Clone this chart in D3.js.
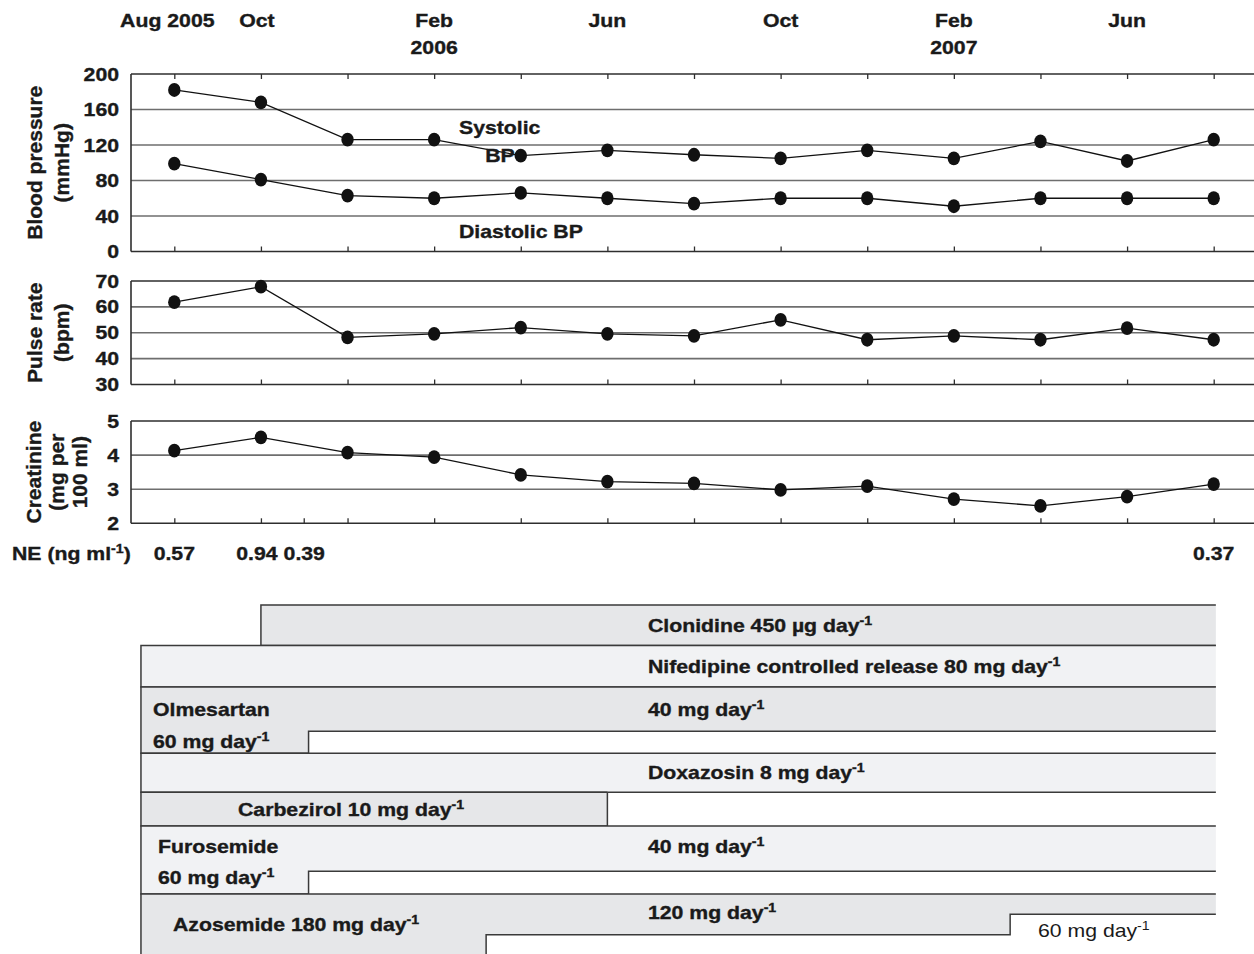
<!DOCTYPE html>
<html><head><meta charset="utf-8">
<script src="https://cdn.jsdelivr.net/npm/d3@7"></script>
<style>
body{margin:0;background:#fff}
svg{display:block}
text{font-family:"Liberation Sans",Arial,Helvetica,sans-serif;fill:#1a1a1a}
text.b{stroke:#1a1a1a;stroke-width:0.35px}
</style>
</head><body>
<svg id="chart" width="1254" height="954"></svg>
<script>
// ---------------- DATA ----------------
const dates = ["2005-08","2005-10","2005-12","2006-02","2006-04","2006-06","2006-08","2006-10","2006-12","2007-02","2007-04","2007-06","2007-08"];
const systolic   = [182,168,126,126,108,114,109,105,114,105,124,102,126];
const diastolic  = [99,81,63,60,66,60,54,60,60,51,60,60,60];
const pulse      = [61.8,67.8,48.2,49.6,52,49.6,48.8,55,47.3,48.8,47.3,51.8,47.3];
const creatinine = [4.13,4.52,4.07,3.94,3.42,3.22,3.17,2.98,3.09,2.71,2.51,2.78,3.15];
const bpTicks = [0,40,80,120,160,200];
const pulseTicks = [30,40,50,60,70];
const creatTicks = [2,3,4,5];
// months after Aug 2005
const topLabels = [
  {m:0, l1:"Aug 2005"}, {m:2, l1:"Oct"}, {m:6, l1:"Feb", l2:"2006"}, {m:10, l1:"Jun"},
  {m:14, l1:"Oct"}, {m:18, l1:"Feb", l2:"2007"}, {m:22, l1:"Jun"}
];
const neMonths = [0,2,3,24];
const neValues = ["0.57","0.94","0.39","0.37"];
const extraTickMonths = [3];
// medication schedules (months after Aug 2005, dose)
const medNames = ["Clonidine","Nifedipine","Olmesartan","Doxazosin","Carbezirol","Furosemide","Azosemide"];
const medSegments = [
  [{from:2, to:24.05, dose:450}],
  [{from:-0.77, to:24.05, dose:80}],
  [{from:-0.77, to:3.1, dose:60},{from:3.1, to:24.05, dose:40}],
  [{from:-0.77, to:24.05, dose:8}],
  [{from:-0.77, to:10, dose:10}],
  [{from:-0.77, to:3.1, dose:60},{from:3.1, to:24.05, dose:40}],
  [{from:-0.77, to:7.2, dose:180},{from:7.2, to:19.3, dose:120},{from:19.3, to:24.05, dose:60}]
];
const studyEnd = 24.05;

// ---------------- SETUP ----------------
const svg = d3.select("#chart");
const SX = 1.18;
const left = 131, right = 1254;
const x = d3.scalePoint().domain(dates).range([131, 1257]).padding(0.5);
const mx = d3.scaleLinear().domain([0,24]).range([x(dates[0]), x(dates[dates.length-1])]);

function stext(g, px, py, parts, opts={}){
  const bold = (opts.weight||"bold") === "bold";
  const t = g.append("text")
    .attr("class", bold ? "b" : null)
    .attr("transform", `translate(${px},${py}) scale(${opts.sx||SX},1)`)
    .attr("text-anchor", opts.anchor||"start")
    .style("font-size", (opts.size||18)+"px")
    .style("font-weight", bold ? "bold" : "normal");
  let raised = false;
  parts.forEach(p=>{
    const isSup = typeof p === "object";
    const s = t.append("tspan").text(isSup ? p.sup : p);
    if(isSup){ s.attr("dy", -7).style("font-size", "12px"); raised = true; }
    else if(raised){ s.attr("dy", 7); raised = false; }
  });
  return t;
}

// ---------------- TOP LABELS ----------------
const gTop = svg.append("g");
topLabels.forEach((d,i)=>{
  const dx = i===0 ? -7 : (i===1 ? -4 : 0);
  stext(gTop, mx(d.m)+dx, 26.5, [d.l1], {anchor:"middle"});
  if(d.l2) stext(gTop, mx(d.m)+dx, 53.5, [d.l2], {anchor:"middle"});
});

// ---------------- PANELS ----------------
function panel(cfg){
  const y = d3.scaleLinear().domain(d3.extent(cfg.ticks)).range([cfg.bottom, cfg.top]);
  const g = svg.append("g");
  g.selectAll("line.grid").data(cfg.ticks).join("line")
    .attr("x1", left).attr("x2", right)
    .attr("y1", d=>y(d)).attr("y2", d=>y(d))
    .attr("stroke", (d,i)=> (i===0||i===cfg.ticks.length-1) ? "#2e2e2e" : "#6e6e6e")
    .attr("stroke-width", 1.6);
  g.append("line").attr("x1",left).attr("x2",left).attr("y1",y.range()[0]).attr("y2",y.range()[1])
    .attr("stroke","#2e2e2e").attr("stroke-width",1.6);
  const bAx = d3.axisBottom(x).tickSize(-5).tickFormat("").tickSizeOuter(0);
  const ab = g.append("g").attr("transform",`translate(0,${cfg.bottom})`).call(bAx);
  ab.select(".domain").remove();
  ab.selectAll(".tick line").attr("stroke","#2e2e2e").attr("stroke-width",1.3);
  if(cfg.extra){
    g.selectAll("line.extra").data(extraTickMonths).join("line")
      .attr("x1", d=>mx(d)).attr("x2", d=>mx(d))
      .attr("y1", cfg.bottom).attr("y2", cfg.bottom-5)
      .attr("stroke","#2e2e2e").attr("stroke-width",1.3);
  }
  if(cfg.topTicks){
    const tAx = d3.axisTop(x).tickSize(-5).tickFormat("").tickSizeOuter(0);
    const at = g.append("g").attr("transform",`translate(0,${cfg.top})`).call(tAx);
    at.select(".domain").remove();
    at.selectAll(".tick line").attr("stroke","#2e2e2e").attr("stroke-width",1.3);
  }
  cfg.ticks.forEach(v=>{
    stext(g, 119, y(v)+6.5, [String(v)], {anchor:"end"});
  });
  cfg.title.forEach((line,i)=>{
    g.append("text").attr("class","b")
      .attr("transform",`translate(${cfg.titleX[i]},${(cfg.top+cfg.bottom)/2}) rotate(-90)`)
      .attr("text-anchor","middle").attr("dy","0.36em")
      .style("font-size","21px").style("font-weight","bold").text(line);
  });
  cfg.series.forEach(vals=>{
    const line = d3.line().x((d,i)=>x(dates[i])).y(d=>y(d));
    g.append("path").datum(vals).attr("d", line)
      .attr("fill","none").attr("stroke","#111").attr("stroke-width",1.3);
    g.selectAll(null).data(vals).join("ellipse")
      .attr("cx",(d,i)=>x(dates[i])).attr("cy",d=>y(d))
      .attr("rx",6.2).attr("ry",6.9).attr("fill","#111");
  });
  return {g,y};
}

const bp = panel({ticks:bpTicks, top:74, bottom:251.5, topTicks:true,
  title:["Blood pressure","(mmHg)"], titleX:[34,61], series:[systolic, diastolic]});
stext(bp.g, 459, 134, ["Systolic"]);
stext(bp.g, 500, 161.5, ["BP"], {anchor:"middle"});
stext(bp.g, 459, 237.5, ["Diastolic BP"]);

panel({ticks:pulseTicks, top:281, bottom:384.5,
  title:["Pulse rate","(bpm)"], titleX:[34,61], series:[pulse]});

panel({ticks:creatTicks, top:421, bottom:523.3, extra:true,
  title:["Creatinine","(mg per","100 ml)"], titleX:[33,56,79], series:[creatinine]});

// ---------------- NE ROW ----------------
const gNE = svg.append("g");
stext(gNE, 12, 560, ["NE (ng ml", {sup:"-1"}, ")"]);
neValues.forEach((v,i)=>{
  const dx = i===1 ? -4 : 0;
  stext(gNE, mx(neMonths[i])+dx, 560, [v], {anchor:"middle"});
});

// ---------------- MEDICATIONS ----------------
const rowTops = [605, 645.5, 687, 753.3, 792.3, 826, 894];
const rowHeights = [40.5, 41.5, 66.3, 39, 33.7, 68, 61];
const shades = ["#e6e7e9","#f1f2f4"];
const gMed = svg.append("g");
medSegments.forEach((segs,k)=>{
  const top = rowTops[k];
  const maxDose = d3.max(segs, s=>s.dose);
  const h = d3.scaleLinear().domain([0,maxDose]).range([0,rowHeights[k]]);
  const first = segs[0], last = segs[segs.length-1];
  let pf = d3.path();
  pf.moveTo(mx(first.from), top);
  pf.lineTo(mx(last.to), top);
  for(let i=segs.length-1;i>=0;i--){
    pf.lineTo(mx(segs[i].to), top+h(segs[i].dose));
    pf.lineTo(mx(segs[i].from), top+h(segs[i].dose));
  }
  pf.closePath();
  gMed.append("path").attr("d", pf.toString()).attr("fill", shades[k%2]);
  let po = d3.path();
  po.moveTo(mx(last.to), top);
  po.lineTo(mx(first.from), top);
  segs.forEach(s=>{
    po.lineTo(mx(s.from), top+h(s.dose));
    po.lineTo(mx(s.to), top+h(s.dose));
  });
  if(last.to < studyEnd) po.lineTo(mx(last.to), top);
  gMed.append("path").attr("d", po.toString()).attr("fill","none")
    .attr("stroke","#3a3a3a").attr("stroke-width",1.5);
});

stext(gMed, 648, 632, ["Clonidine 450 µg day", {sup:"-1"}]);
stext(gMed, 648, 673, ["Nifedipine controlled release 80 mg day", {sup:"-1"}]);
stext(gMed, 153, 716, ["Olmesartan"]);
stext(gMed, 153, 748, ["60 mg day", {sup:"-1"}]);
stext(gMed, 648, 716, ["40 mg day", {sup:"-1"}]);
stext(gMed, 648, 779, ["Doxazosin 8 mg day", {sup:"-1"}]);
stext(gMed, 238, 816, ["Carbezirol 10 mg day", {sup:"-1"}]);
stext(gMed, 158, 853, ["Furosemide"]);
stext(gMed, 158, 884, ["60 mg day", {sup:"-1"}]);
stext(gMed, 648, 853, ["40 mg day", {sup:"-1"}]);
stext(gMed, 173, 931, ["Azosemide 180 mg day", {sup:"-1"}]);
stext(gMed, 648, 919, ["120 mg day", {sup:"-1"}]);
stext(gMed, 1038, 937, ["60  mg day", {sup:"-1"}], {weight:"normal"});
</script>
</body></html>
